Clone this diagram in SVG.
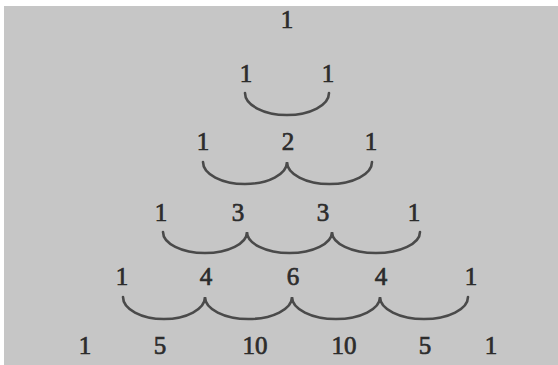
<svg xmlns="http://www.w3.org/2000/svg" width="558" height="365" viewBox="0 0 558 365">
  <style>
    .num { font-family: "Liberation Serif", "Times New Roman", serif; font-size: 25px; fill: #2c2c2c; stroke: #2c2c2c; stroke-width: 0.7; text-anchor: middle; }
    .arc { fill: none; stroke: #4a4a4a; stroke-width: 2.6; stroke-linecap: round; }
  </style>
  <rect x="0" y="0" width="558" height="365" fill="#ffffff"/>
  <rect x="4" y="6" width="554" height="359" fill="#c6c6c6"/>

  <!-- connectors: each row's pairs are joined by a half-ellipse -->
  <g id="connectors">
    <path class="arc" d="M245 93 A42 22 0 0 0 329 93"/>
    <path class="arc" d="M203 162 A42 22 0 0 0 287 162 A42.5 22 0 0 0 372 162"/>
    <path class="arc" d="M163 232 A42 21 0 0 0 247 232 A42.5 21 0 0 0 332 232 A44 21 0 0 0 420 232"/>
    <path class="arc" d="M123 297 A41 22 0 0 0 205 297 A43.5 22 0 0 0 292 297 A44 22 0 0 0 380 297 A44 22 0 0 0 468 297"/>
  </g>

  <!-- rows of the triangle -->
  <g id="row0"><text class="num" x="287" y="28">1</text></g>
  <g id="row1">
    <text class="num" x="246" y="82">1</text>
    <text class="num" x="328" y="82">1</text>
  </g>
  <g id="row2">
    <text class="num" x="203" y="150">1</text>
    <text class="num" x="288" y="150">2</text>
    <text class="num" x="371" y="150">1</text>
  </g>
  <g id="row3">
    <text class="num" x="161" y="221">1</text>
    <text class="num" x="238" y="221">3</text>
    <text class="num" x="323" y="221">3</text>
    <text class="num" x="414" y="221">1</text>
  </g>
  <g id="row4">
    <text class="num" x="122" y="285">1</text>
    <text class="num" x="206" y="285">4</text>
    <text class="num" x="293" y="285">6</text>
    <text class="num" x="381" y="285">4</text>
    <text class="num" x="471" y="285">1</text>
  </g>
  <g id="row5">
    <text class="num" x="85" y="354">1</text>
    <text class="num" x="160" y="354">5</text>
    <text class="num" x="255" y="354">10</text>
    <text class="num" x="344" y="354">10</text>
    <text class="num" x="425" y="354">5</text>
    <text class="num" x="491" y="354">1</text>
  </g>
</svg>
